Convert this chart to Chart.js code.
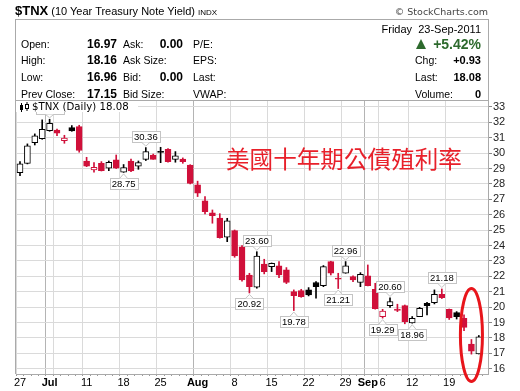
<!DOCTYPE html>
<html>
<head>
<meta charset="utf-8">
<script src="https://cdn.jsdelivr.net/npm/chart.js@4.4.0/dist/chart.umd.min.js"></script>
<style>
  body { margin: 0; background: #fff; }
  #wrap { position: relative; width: 520px; height: 391px; overflow: hidden; font-family: "Liberation Sans", Arial, sans-serif; color: #000; }
  #chart { position: absolute; left: 0; top: 0; }
  .t { position: absolute; white-space: nowrap; font-size: 10.5px; line-height: 12px; }
  .v { position: absolute; white-space: nowrap; font-size: 12px; line-height: 12px; font-weight: bold; }
  .vr { position: absolute; white-space: nowrap; font-size: 11px; line-height: 12px; font-weight: bold; }
  #info { position: absolute; left: 15px; top: 19px; width: 474px; height: 82px; box-sizing: border-box; border: 1px solid #aaa; }
  #legend { position: absolute; left: 16px; top: 101px; width: 122px; height: 11px; background: #fff; }
  #cn { position: absolute; left: 226px; top: 147px; font-family: "Noto Sans CJK TC", sans-serif; font-size: 23.6px; line-height: 23.6px; color: #e8202a; white-space: nowrap; }
</style>
</head>
<body>
<div id="wrap">
  <canvas id="chart" width="520" height="391"></canvas>

  <div class="t" style="left:15px;top:3px;line-height:16px"><b style="font-size:13px">$TNX</b><span style="font-size:11px"> (10 Year Treasury Note Yield) </span><span style="font-size:8px">INDX</span></div>
  <div class="t" style="right:32px;top:6px;font-family:'DejaVu Sans';font-size:9.5px;color:#444">© StockCharts.com</div>

  <div id="info"></div>
  <div class="t" style="left:21px;top:38px">Open:</div>
  <div class="t" style="left:21px;top:54px">High:</div>
  <div class="t" style="left:21px;top:71px">Low:</div>
  <div class="t" style="left:21px;top:88px">Prev Close:</div>
  <div class="v" style="right:403px;top:38px">16.97</div>
  <div class="v" style="right:403px;top:54px">18.16</div>
  <div class="v" style="right:403px;top:71px">16.96</div>
  <div class="v" style="right:403px;top:88px">17.15</div>
  <div class="t" style="left:123px;top:38px">Ask:</div>
  <div class="t" style="left:123px;top:54px">Ask Size:</div>
  <div class="t" style="left:123px;top:71px">Bid:</div>
  <div class="t" style="left:123px;top:88px">Bid Size:</div>
  <div class="v" style="right:337px;top:38px">0.00</div>
  <div class="v" style="right:337px;top:71px">0.00</div>
  <div class="t" style="left:193px;top:38px">P/E:</div>
  <div class="t" style="left:193px;top:54px">EPS:</div>
  <div class="t" style="left:193px;top:71px">Last:</div>
  <div class="t" style="left:193px;top:88px">VWAP:</div>

  <div class="t" style="right:39px;top:23px;font-size:11px">Friday&nbsp;&nbsp;23-Sep-2011</div>
  <div style="position:absolute;left:416px;top:39px;width:0;height:0;border-left:5.5px solid transparent;border-right:5.5px solid transparent;border-bottom:10px solid #2d6a2d"></div>
  <div class="vr" style="right:39px;top:36px;font-size:14px;line-height:16px;color:#2d6a2d">+5.42%</div>
  <div class="t" style="left:415px;top:54px">Chg:</div>
  <div class="t" style="left:415px;top:71px">Last:</div>
  <div class="t" style="left:415px;top:88px">Volume:</div>
  <div class="vr" style="right:39px;top:54px">+0.93</div>
  <div class="vr" style="right:39px;top:71px">18.08</div>
  <div class="vr" style="right:39px;top:88px">0</div>

  <div id="legend">
    <svg width="12" height="10" style="position:absolute;left:3px;top:1px">
      <rect x="1" y="3" width="3" height="5" fill="#000"/><line x1="2.5" y1="1" x2="2.5" y2="10" stroke="#000"/>
      <rect x="6.5" y="2.5" width="3" height="4" fill="#fff" stroke="#000"/><line x1="8" y1="0" x2="8" y2="2.5" stroke="#000"/><line x1="8" y1="6.5" x2="8" y2="9" stroke="#000"/>
    </svg>
    <span style="position:absolute;left:16px;top:0px;font-family:'DejaVu Sans';font-size:10.2px;line-height:12px">$TNX (Daily) 18.08</span>
  </div>

  <div id="cn">美國十年期公債殖利率</div>
</div>

<script>
const RED = '#d0103a';
const BLACK = '#000';

// trading days shown on the chart
const dates = ['Jun 27','Jun 28','Jun 29','Jun 30','Jul 1','Jul 5','Jul 6','Jul 7','Jul 8',
  'Jul 11','Jul 12','Jul 13','Jul 14','Jul 15','Jul 18','Jul 19','Jul 20','Jul 21','Jul 22',
  'Jul 25','Jul 26','Jul 27','Jul 28','Jul 29','Aug 1','Aug 2','Aug 3','Aug 4','Aug 5',
  'Aug 8','Aug 9','Aug 10','Aug 11','Aug 12','Aug 15','Aug 16','Aug 17','Aug 18','Aug 19',
  'Aug 22','Aug 23','Aug 24','Aug 25','Aug 26','Aug 29','Aug 30','Aug 31','Sep 1','Sep 2',
  'Sep 6','Sep 7','Sep 8','Sep 9','Sep 12','Sep 13','Sep 14','Sep 15','Sep 16',
  'Sep 19','Sep 20','Sep 21','Sep 22','Sep 23'];

const opens = [28.73,29.34,30.68,30.94,31.46,31.50,30.81,31.66,31.72,
  29.49,28.91,29.34,29.02,29.56,28.76,29.49,29.16,29.60,29.88,
  30.11,30.25,29.60,29.62,29.23,27.94,26.90,26.12,25.79,24.54,
  24.97,23.91,22.09,21.29,22.79,22.63,22.68,22.42,21.01,21.07,
  21.12,21.60,21.40,22.96,21.89,22.20,21.98,21.60,22.03,21.15,
  19.39,20.10,19.88,20.10,18.97,19.39,20.25,20.29,20.84,
  19.86,19.64,19.28,17.60,16.97];
const highs = [29.45,30.60,31.25,32.16,32.20,31.57,31.16,31.79,31.81,
  29.73,29.38,29.45,29.49,29.88,29.26,29.62,29.49,30.36,29.94,
  30.38,30.29,30.10,29.69,29.25,28.18,27.18,26.31,26.07,25.77,
  25.01,24.00,22.20,23.60,23.11,22.87,22.96,22.57,21.12,21.16,
  21.27,21.66,22.70,22.98,22.20,22.96,22.03,22.24,22.74,21.55,
  19.86,20.60,20.19,20.14,19.39,19.99,20.32,21.12,21.18,
  19.88,19.71,19.50,17.90,18.16];
const lows = [28.54,29.30,30.53,30.90,31.42,31.14,30.64,31.42,30.06,
  29.12,28.76,28.84,28.86,29.00,28.75,28.80,28.95,29.52,29.60,
  29.38,29.41,29.41,29.34,28.00,27.18,26.05,25.45,24.48,24.25,
  23.24,21.68,20.92,21.23,22.16,22.31,21.92,21.53,19.78,20.64,
  20.73,20.58,21.33,22.09,21.21,22.20,21.66,21.33,21.38,19.87,
  19.29,19.99,19.71,18.92,18.96,19.39,19.50,20.21,20.56,
  19.20,19.23,18.47,16.95,16.96];
const closes = [29.30,30.47,31.12,31.55,31.94,31.29,30.97,31.44,30.17,
  29.15,29.08,28.86,29.41,29.02,29.06,28.84,29.38,30.10,29.60,
  30.04,29.45,29.82,29.45,28.04,27.40,26.20,25.94,24.51,25.60,
  23.33,21.77,21.33,23.31,22.31,22.85,22.09,21.60,20.75,20.68,
  20.79,21.33,22.63,22.20,21.82,22.68,21.77,22.13,21.40,19.90,
  19.75,20.36,19.78,19.06,19.28,19.93,20.10,20.84,20.62,
  19.30,19.39,18.69,17.15,18.08];

// axes
const yTicks = [16,17,18,19,20,21,22,23,24,25,26,27,28,29,30,31,32,33];
const xTickDays = ['Jun 27','Jul 1','Jul 11','Jul 18','Jul 25','Aug 1','Aug 8','Aug 15','Aug 22','Aug 29','Sep 1','Sep 6','Sep 12','Sep 19'];
const xTickLabels = ['27','Jul','11','18','25','Aug','8','15','22','29','Sep','6','12','19'];
const monthDays = ['Jul 1','Aug 1','Sep 1'];
const weekDays = ['Jun 27','Jul 5','Jul 11','Jul 18','Jul 25','Aug 1','Aug 8','Aug 15','Aug 22','Aug 29','Sep 6','Sep 12','Sep 19'];

// price callouts: [day, 'high' | 'low']
const callouts = [['Jul 1','high'],['Jul 18','low'],['Jul 21','high'],['Aug 10','low'],['Aug 11','high'],
  ['Aug 18','low'],['Aug 26','low'],['Aug 29','high'],['Sep 6','low'],['Sep 7','high'],['Sep 12','low'],['Sep 16','high']];

const idx = d => dates.indexOf(d);
const candleColor = closes.map((c, i) => (i > 0 && c < closes[i - 1]) ? RED : BLACK);
const hollow = closes.map((c, i) => c >= opens[i]);
const tickLabelAt = {};
xTickDays.forEach((d, k) => { tickLabelAt[idx(d)] = xTickLabels[k]; });
const monthIdx = monthDays.map(idx);
const weekIdx = weekDays.map(idx);

function gridColor(c) {
  const v = c.tick ? c.tick.value : -1;
  if (monthIdx.includes(v)) return '#b4b4b4';
  if (weekIdx.includes(v)) return '#dadada';
  return 'rgba(0,0,0,0)';
}

function drawCallout(ctx, x, yEnd, text, above) {
  ctx.save();
  ctx.font = '9.5px "Liberation Sans"';
  const w = Math.round(ctx.measureText(text).width) + 4;
  const h = 11;
  const dir = above ? -1 : 1;
  const tipY = yEnd + dir * 1.5;
  const edgeY = Math.round(tipY + dir * 4) + 0.5;
  const boxY = above ? edgeY - h : edgeY;
  const bx = Math.round(x - w / 2) + 0.5;
  ctx.fillStyle = '#fff';
  ctx.strokeStyle = '#c4c4c4';
  ctx.lineWidth = 1;
  ctx.fillRect(bx, boxY, w, h);
  ctx.strokeRect(bx, boxY, w, h);
  ctx.beginPath();
  ctx.moveTo(x - 4, edgeY);
  ctx.lineTo(x, tipY);
  ctx.lineTo(x + 4, edgeY);
  ctx.fill();
  ctx.stroke();
  ctx.fillStyle = '#000';
  ctx.textAlign = 'center';
  ctx.textBaseline = 'middle';
  ctx.fillText(text, x, boxY + h / 2 + 0.5);
  ctx.restore();
}

const extras = {
  id: 'extras',
  afterDatasetsDraw(chart) {
    const { ctx, scales: { x, y } } = chart;
    callouts.forEach(([d, side]) => {
      const i = idx(d);
      const v = side === 'high' ? highs[i] : lows[i];
      drawCallout(ctx, x.getPixelForValue(i), y.getPixelForValue(v), v.toFixed(2), side === 'high');
    });
  },
  afterDraw(chart) {
    const { ctx, chartArea: a, scales: { x, y } } = chart;
    ctx.save();
    // left edge of the price panel
    ctx.strokeStyle = '#aaa';
    ctx.lineWidth = 1;
    ctx.beginPath();
    ctx.moveTo(a.left - 0.5, a.top);
    ctx.lineTo(a.left - 0.5, a.bottom);
    ctx.stroke();
    // red ring around the last days
    const cx = x.getPixelForValue(61);
    const cy = y.getPixelForValue(18.19);
    const rx = x.getPixelForValue(61 + 1.49) - cx;
    const ry = cy - y.getPixelForValue(18.19 + 3.02);
    ctx.strokeStyle = '#e8151b';
    ctx.lineWidth = 3;
    ctx.beginPath();
    ctx.ellipse(cx, cy, rx, ry, 0, 0, Math.PI * 2);
    ctx.stroke();
    ctx.restore();
  }
};

function createChart() {
  const el = document.getElementById('chart');
  return new Chart(el, {
    type: 'bar',
    data: {
      datasets: [
        {
          label: 'body',
          data: dates.map((d, i) => ({ x: i, y: [opens[i], closes[i]] })),
          backgroundColor: dates.map((d, i) => hollow[i] ? '#fff' : candleColor[i]),
          borderColor: candleColor,
          borderWidth: 1,
          borderSkipped: false,
          barThickness: 6,
          grouped: false,
          order: 1
        },
        {
          label: 'range',
          data: dates.map((d, i) => ({ x: i, y: [lows[i], highs[i]] })),
          backgroundColor: candleColor,
          borderWidth: 0,
          barThickness: 1,
          grouped: false,
          order: 2
        }
      ]
    },
    options: {
      responsive: false,
      animation: false,
      layout: { padding: { left: 16, top: 100, right: 0, bottom: 0 } },
      plugins: { legend: { display: false }, tooltip: { enabled: false } },
      scales: {
        x: {
          type: 'linear',
          min: -0.54,
          max: 63.24,
          offset: false,
          afterBuildTicks: axis => { axis.ticks = dates.map((d, i) => ({ value: i })); },
          afterFit: axis => { axis.height = 17; },
          grid: {
            color: gridColor,
            tickColor: '#999',
            tickLength: 2
          },
          border: { color: '#aaa' },
          ticks: {
            autoSkip: false,
            maxRotation: 0,
            padding: 0,
            color: '#000',
            callback: v => tickLabelAt[v] || '',
            font: c => ({ family: 'Liberation Sans', size: 11, weight: (c.tick && monthIdx.includes(c.tick.value)) ? 'bold' : 'normal' })
          }
        },
        y: {
          position: 'right',
          min: 15.66,
          max: 33.45,
          afterBuildTicks: axis => { axis.ticks = yTicks.map(v => ({ value: v })); },
          afterFit: axis => { axis.width = 32; },
          grid: { color: '#dadada', tickColor: '#888', tickLength: 4 },
          border: { color: '#aaa' },
          ticks: { autoSkip: false, padding: 1, color: '#222', font: { family: 'Liberation Sans', size: 11 } }
        }
      }
    },
    plugins: [extras]
  });
}

const chart = createChart();
</script>
</body>
</html>
